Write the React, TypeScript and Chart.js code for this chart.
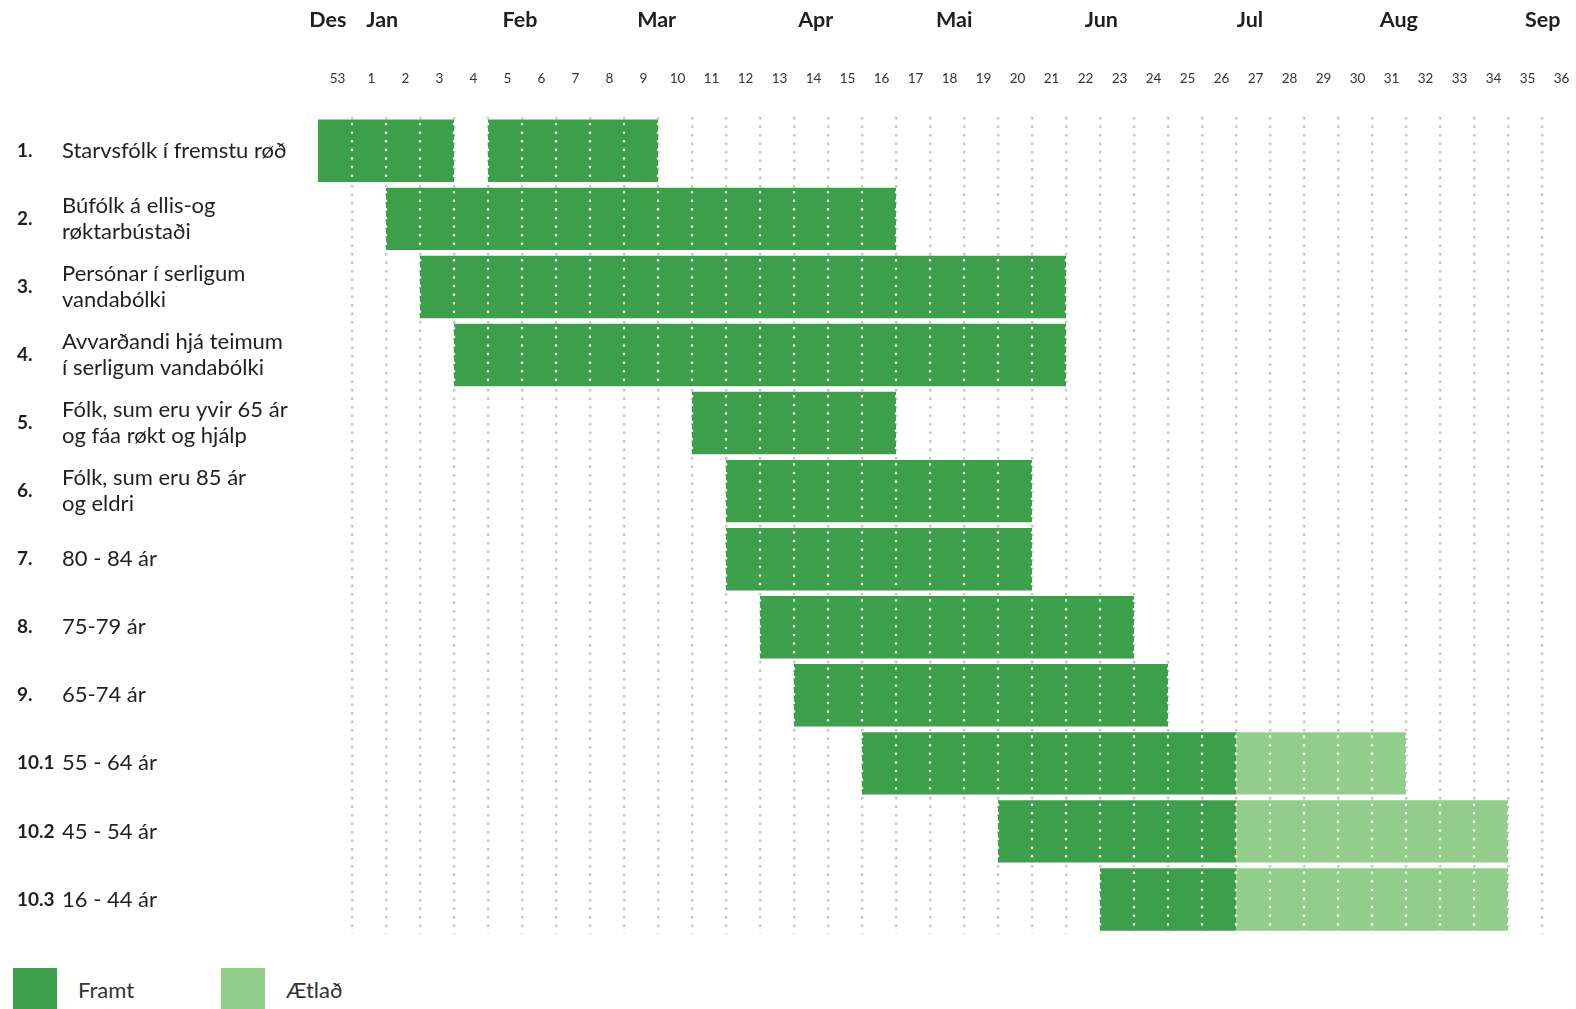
import React, { useEffect, useRef } from 'react';
import { Chart, registerables } from 'chart.js';

Chart.register(...registerables);

// Week sequence along the x axis (position i = cell [i, i+1])
const weekLabels = ['53', '1', '2', '3', '4', '5', '6', '7', '8', '9', '10', '11', '12', '13', '14', '15', '16', '17', '18', '19', '20', '21', '22', '23', '24', '25', '26', '27', '28', '29', '30', '31', '32', '33', '34', '35', '36'];
const monthLabels = ['Des', 'Jan', 'Feb', 'Mar', 'Apr', 'Mai', 'Jun', 'Jul', 'Aug', 'Sep'];
const monthPositions = [0.29, 1.89, 5.94, 9.96, 14.64, 18.71, 23.04, 27.41, 31.79, 36.02];

const rowNumbers = ['1.', '2.', '3.', '4.', '5.', '6.', '7.', '8.', '9.', '10.1', '10.2', '10.3'];
const groupLabels: (string | string[])[] = [
  'Starvsfólk í fremstu røð',
  ['Búfólk á ellis-og', 'røktarbústaði'],
  ['Persónar í serligum', 'vandabólki'],
  ['Avvarðandi hjá teimum', 'í serligum vandabólki'],
  ['Fólk, sum eru yvir 65 ár', 'og fáa røkt og hjálp'],
  ['Fólk, sum eru 85 ár', 'og eldri'],
  '80 - 84 ár',
  '75-79 ár',
  '65-74 ár',
  '55 - 64 ár',
  '45 - 54 ár',
  '16 - 44 ár',
];

// Positions on the week sequence (0 = week 53)
const doneStart = [0, 2, 3, 4, 11, 12, 12, 13, 14, 16, 20, 23];
const doneEnd = [4, 17, 22, 22, 17, 21, 21, 24, 25, 27, 27, 27];
const doneExtraStart = [5, null, null, null, null, null, null, null, null, null, null, null];
const doneExtraEnd = [10, null, null, null, null, null, null, null, null, null, null, null];
const plannedStart = [null, null, null, null, null, null, null, null, null, 27, 27, 27];
const plannedEnd = [null, null, null, null, null, null, null, null, null, 32, 35, 35];

const DONE = '#3e9f4b';
const PLANNED = '#93cd8b';
const FONT = 'Lato, "Open Sans", sans-serif';

const pair = (s: (number | null)[], e: (number | null)[]) =>
  s.map((v, i) => (v === null || e[i] === null ? null : [v, e[i] as number]));

const barGridPlugin = {
  id: 'barGrid',
  afterDatasetsDraw(chart: any) {
    const xs = chart.scales.x;
    const ctx = chart.ctx;
    ctx.save();
    ctx.strokeStyle = '#ffffff';
    ctx.lineWidth = 2.6;
    ctx.lineCap = 'round';
    ctx.setLineDash([0, 8.6]);
    chart.data.datasets.forEach((ds: any, di: number) => {
      const meta = chart.getDatasetMeta(di);
      meta.data.forEach((el: any, i: number) => {
        if (!ds.data[i]) return;
        const p = el.getProps(['x', 'base', 'y', 'height'], true);
        const l = Math.min(p.x, p.base);
        const r = Math.max(p.x, p.base);
        for (let k = 1; k < weekLabels.length; k++) {
          const px = xs.getPixelForValue(k);
          if (px < l - 1.5 || px > r + 1.5) continue;
          ctx.beginPath();
          ctx.moveTo(px, p.y - p.height / 2 + 4.5);
          ctx.lineTo(px, p.y + p.height / 2);
          ctx.stroke();
        }
      });
    });
    ctx.restore();
  },
};

const noPadX = (h: number) => (scale: any) => {
  scale.height = h;
  scale.paddingLeft = 0;
  scale.paddingRight = 0;
};
const noPadY = (w: number) => (scale: any) => {
  scale.width = w;
  scale.paddingTop = 0;
  scale.paddingBottom = 0;
};

export default function App() {
  const ref = useRef<HTMLCanvasElement | null>(null);

  useEffect(() => {
    if (!ref.current) return;
    const chart = new Chart(ref.current, {
      type: 'bar',
      data: {
        labels: groupLabels,
        datasets: [
          {
            label: 'Framt',
            data: pair(doneStart, doneEnd) as any,
            backgroundColor: DONE,
            grouped: false,
            categoryPercentage: 1,
            barPercentage: 0.917,
          },
          {
            label: 'Framt ',
            data: pair(doneExtraStart, doneExtraEnd) as any,
            backgroundColor: DONE,
            grouped: false,
            categoryPercentage: 1,
            barPercentage: 0.917,
          },
          {
            label: 'Ætlað',
            data: pair(plannedStart, plannedEnd) as any,
            backgroundColor: PLANNED,
            grouped: false,
            categoryPercentage: 1,
            barPercentage: 0.917,
          },
        ],
      },
      options: {
        indexAxis: 'y',
        animation: false,
        responsive: true,
        maintainAspectRatio: false,
        layout: { padding: { left: 17, right: 0, top: 4, bottom: 4.5 } },
        plugins: { legend: { display: false }, tooltip: { enabled: false } },
        scales: {
          x: {
            type: 'linear',
            position: 'top',
            min: 0,
            max: weekLabels.length,
            weight: 0,
            afterBuildTicks: (scale: any) => {
              scale.ticks = weekLabels.map((_, i) => ({ value: i + 0.5 }));
            },
            afterFit: noPadX(50.8),
            ticks: {
              autoSkip: false,
              maxRotation: 0,
              padding: 30,
              labelOffset: 2.5,
              color: '#333333',
              font: { family: FONT, size: 13.5 },
              callback: (_v: any, i: number) => weekLabels[i],
            },
            grid: {
              offset: true,
              drawTicks: false,
              lineWidth: 2.4,
              color: (c: any) =>
                c.type !== 'tick' || c.index === 0 ? 'rgba(0,0,0,0)' : '#c6c6c6',
            },
            border: { display: false, dash: [2.4, 6.1] },
          },
          x2: {
            type: 'linear',
            position: 'top',
            min: 0,
            max: weekLabels.length,
            weight: 1,
            afterBuildTicks: (scale: any) => {
              scale.ticks = monthPositions.map((v) => ({ value: v }));
            },
            afterFit: noPadX(62),
            ticks: {
              autoSkip: false,
              maxRotation: 0,
              padding: 33.5,
              color: '#231f20',
              font: { family: FONT, size: 21.5, weight: 'bold' },
              callback: (_v: any, i: number) => monthLabels[i],
            },
            grid: { display: false, drawTicks: false },
            border: { display: false },
          },
          y: {
            type: 'category',
            position: 'left',
            offset: true,
            weight: 0,
            afterFit: noPadY(256),
            ticks: {
              crossAlign: 'far',
              padding: 0,
              color: '#231f20',
              font: { family: FONT, size: 22, lineHeight: 1.2 },
            },
            grid: { display: false, drawTicks: false },
            border: { display: false },
          },
          yNum: {
            type: 'category',
            position: 'left',
            labels: rowNumbers,
            offset: true,
            weight: 1,
            afterFit: noPadY(45),
            ticks: {
              crossAlign: 'far',
              padding: 0,
              color: '#231f20',
              font: { family: FONT, size: 19, weight: 'bold' },
            },
            grid: { display: false, drawTicks: false },
            border: { display: false },
          },
        } as any,
      },
      plugins: [barGridPlugin],
    });
    return () => chart.destroy();
  }, []);

  const legendItems = [
    { label: 'Framt', color: DONE },
    { label: 'Ætlað', color: PLANNED },
  ];

  return (
    <div
      style={{
        position: 'absolute',
        left: 0,
        top: 0,
        width: 1576,
        height: 1009,
        overflow: 'hidden',
        background: '#ffffff',
      }}
    >
      <div style={{ position: 'absolute', left: 0, top: 0, width: 1576, height: 938 }}>
        <canvas ref={ref} />
      </div>
      <div
        style={{
          position: 'absolute',
          left: 13,
          top: 968,
          display: 'flex',
          alignItems: 'center',
          fontFamily: FONT,
          fontSize: 22,
          color: '#333333',
        }}
      >
        {legendItems.map((it, i) => (
          <div
            key={it.label}
            style={{ display: 'flex', alignItems: 'center', width: i === 0 ? 208 : 'auto' }}
          >
            <div style={{ width: 44, height: 43, background: it.color }} />
            <span style={{ marginLeft: 21 }}>{it.label}</span>
          </div>
        ))}
      </div>
    </div>
  );
}
